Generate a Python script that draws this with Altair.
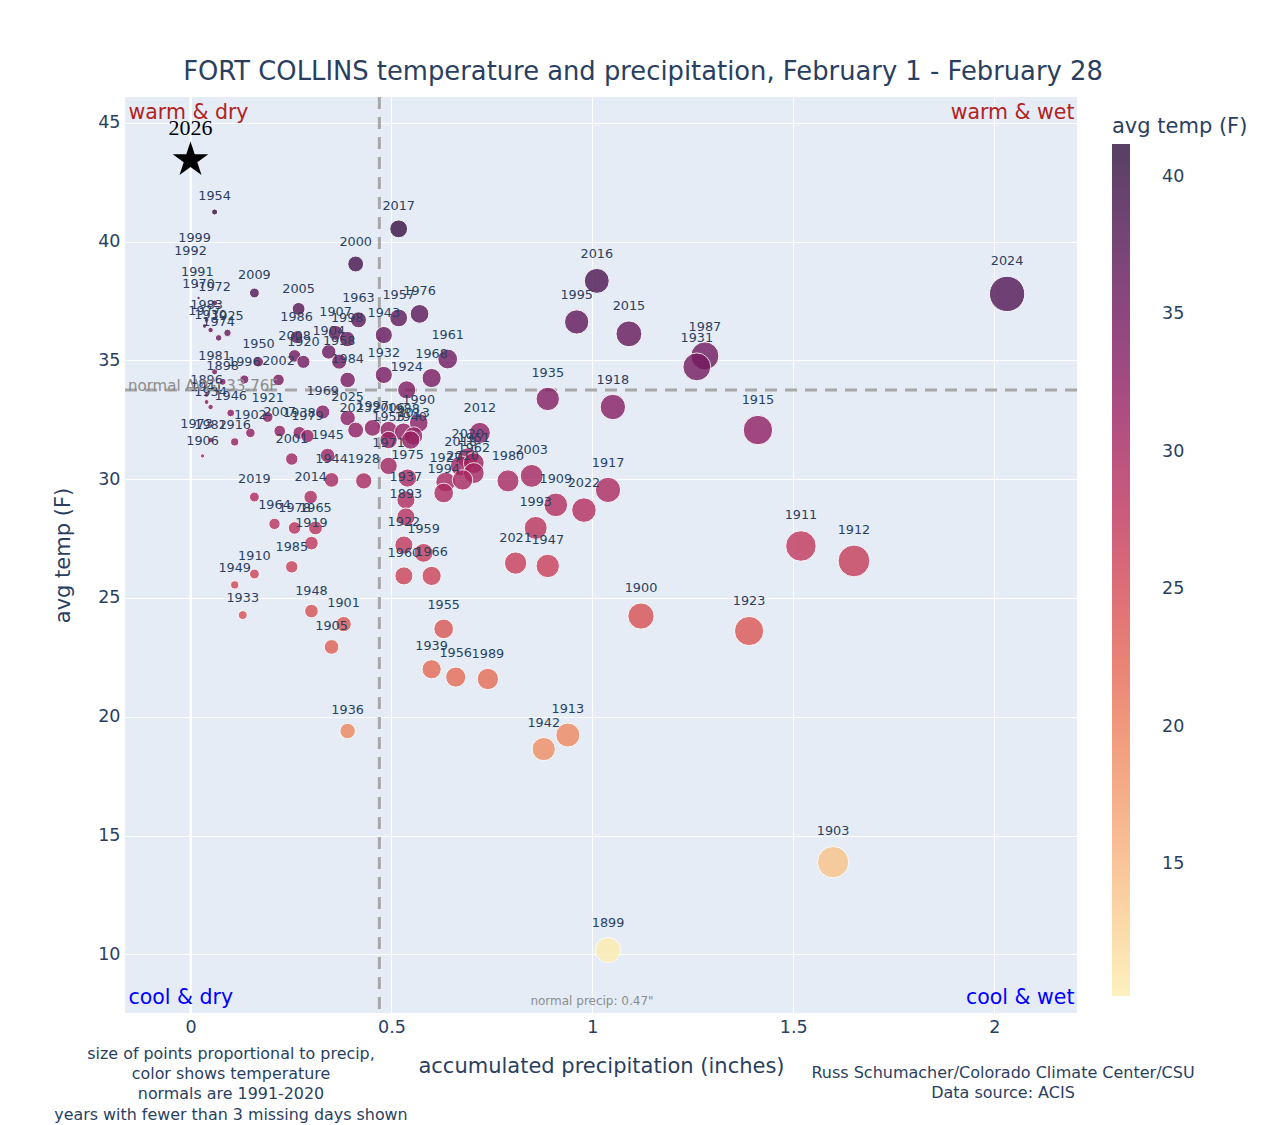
import altair as alt
import pandas as pd

years = ["1954","1999","1992","1991","1970","1972","2009","2005","1983","1977","1930","1925","1974",
         "1986","2008","1920","1904","1907","1998","1963","1958","1984","1950","1996","2002","1981",
         "1898","1896","1941","1934","1946","1921","1902","2007","1938","1979","1969","2025","2023",
         "1997","2006","1988","1990","2013","1953","1940","1916","1973","1982","1906","2001","1945",
         "1971","1975","1944","1928","2019","2014","1937","1893","1964","1978","1965","1919","1922",
         "1959","1960","1966","1910","1985","1949","1933","1948","1901","1905","1936","2017","2000",
         "1957","1976","1943","1961","1968","1932","1924","2012","2020","2018","1951","1962","1927",
         "2010","1994","1980","2003","1909","2022","1993","2021","1947","1917","1935","1918","1915",
         "1995","2016","2015","1987","1931","2024","1911","1912","1900","1923","1955","1939","1956",
         "1989","1913","1942","1903","1899"]
precip = [0.06,0.01,0.0,0.017,0.02,0.06,0.159,0.269,0.04,0.035,0.05,0.092,0.07,
          0.264,0.259,0.281,0.344,0.361,0.39,0.418,0.37,0.391,0.169,0.134,0.219,0.06,
          0.08,0.04,0.04,0.05,0.1,0.192,0.149,0.222,0.271,0.291,0.329,0.391,0.411,
          0.453,0.493,0.53,0.568,0.555,0.493,0.548,0.11,0.015,0.05,0.03,0.252,0.341,
          0.493,0.54,0.351,0.431,0.159,0.299,0.536,0.536,0.209,0.259,0.311,0.301,0.531,
          0.58,0.531,0.6,0.159,0.252,0.11,0.13,0.301,0.381,0.351,0.391,0.518,0.411,
          0.518,0.57,0.481,0.64,0.6,0.481,0.538,0.72,0.69,0.672,0.705,0.705,0.635,
          0.677,0.63,0.79,0.849,0.909,0.979,0.859,0.809,0.889,1.039,0.889,1.051,1.412,
          0.961,1.011,1.091,1.28,1.26,2.032,1.519,1.651,1.121,1.39,0.63,0.6,0.66,
          0.74,0.939,0.879,1.599,1.039]
temp = [41.25,39.6,39.1,38.14,37.63,37.42,37.84,37.17,36.7,36.45,36.28,36.16,35.95,
        35.98,35.19,34.94,35.36,36.16,35.9,36.71,34.95,34.18,34.94,34.2,34.18,34.52,
        34.1,33.55,33.25,33.04,32.79,32.62,31.95,32.03,31.95,31.82,32.83,32.58,32.07,
        32.16,32.07,31.99,32.37,31.82,31.65,31.65,31.57,31.74,31.65,30.98,30.85,31.0,
        30.56,30.05,29.97,29.93,29.25,29.25,29.13,28.41,28.12,27.95,27.95,27.31,27.23,
        26.9,25.93,25.93,26.01,26.31,25.55,24.28,24.45,23.9,22.94,19.4,40.54,39.06,
        36.79,36.96,36.07,35.06,34.26,34.39,33.76,31.95,30.89,30.56,30.68,30.26,29.88,
        29.97,29.42,29.93,30.14,28.92,28.7,27.95,26.47,26.35,29.55,33.38,33.04,32.07,
        36.62,38.35,36.12,35.19,34.73,37.8,27.19,26.56,24.24,23.61,23.7,22.0,21.67,
        21.59,19.23,18.64,13.88,10.18]

current_year = ["2026"]
current_precip = [0.0]
current_temp = [43.44]

normal_precip = [0.47]
normal_temp = [33.76]

x_ticks = [0, 0.5, 1, 1.5, 2]
y_ticks = [10, 15, 20, 25, 30, 35, 40, 45]
cbar_ticks = [15, 20, 25, 30, 35, 40]

matter = ["#fdedb0", "#facd91", "#f6ad77", "#f08e62", "#e76d54", "#d85053",
          "#c3385a", "#a82860", "#8a1d63", "#6b185d", "#4c1550", "#2f0f3d"]

df = pd.DataFrame({"year": years, "precip": precip, "temp": temp})
cur = pd.DataFrame({"year": current_year, "precip": current_precip, "temp": current_temp})
one = pd.DataFrame({"a": [0]})

W, H = 952, 916
Y0, Y1 = 7.53, 46.09
DEG_PER_PX = (Y1 - Y0) / H
FONT = "DejaVu Sans"
TXT = "#2a3f5f"

xs = alt.Scale(domain=[-0.163, 2.206], nice=False, zero=False)
ys = alt.Scale(domain=[Y0, Y1], nice=False, zero=False)

xaxis = alt.Axis(values=x_ticks, format="~g", title="accumulated precipitation (inches)",
                 titleX=W / 2, titleY=53, titleBaseline="middle", titleAlign="center")
yaxis = alt.Axis(values=y_ticks, title="avg temp (F)", titleX=-62, titleY=H / 2,
                 titleAngle=270, titleBaseline="middle", titleAlign="center")


def X(f):
    return alt.X(f, scale=xs, axis=xaxis)


def Y(f):
    return alt.Y(f, scale=ys, axis=yaxis)


zero_line = alt.Chart(pd.DataFrame({"z": [0]})).mark_rule(color="white", strokeWidth=2).encode(x=X("z:Q"))

vline = alt.Chart(pd.DataFrame({"p": normal_precip})).mark_rule(
    color="#a8a8a8", strokeWidth=3, strokeDash=[12, 8]).encode(x=X("p:Q"))
hline = alt.Chart(pd.DataFrame({"t": normal_temp})).mark_rule(
    color="#a8a8a8", strokeWidth=3, strokeDash=[12, 8]).encode(y=Y("t:Q"))

points = alt.Chart(df).mark_circle(opacity=0.8, stroke="white", strokeWidth=1).encode(
    x=X("precip:Q"),
    y=Y("temp:Q"),
    size=alt.Size("precip:Q", scale=alt.Scale(type="linear", domain=[0, 1], range=[0, 615.75]), legend=None),
    color=alt.Color("temp:Q", scale=alt.Scale(domain=[10.2, 41.2], range=matter),
                    legend=alt.Legend(title="avg temp (F)", values=cbar_ticks, orient="none",
                                      legendX=987, legendY=19, gradientLength=852,
                                      gradientThickness=18, labelFontSize=17.5, labelFont=FONT,
                                      labelColor=TXT, titleFont=FONT, titleFontSize=21,
                                      titleFontWeight="normal", titleColor=TXT, titlePadding=7,
                                      labelOffset=32, gradientStrokeWidth=0)),
)

# label sits just above each marker: offset = marker radius + gap, converted to data units
labels = alt.Chart(df).transform_calculate(
    ly=f"datum.temp + (15*sqrt(datum.precip) + 12) * {DEG_PER_PX}"
).mark_text(fontSize=12.8, font=FONT, color=TXT, baseline="middle").encode(
    x=X("precip:Q"),
    y=Y("ly:Q"),
    text="year:N",
)

STAR = ("M0,-1 L0.2245,-0.309 L0.951,-0.309 L0.363,0.118 L0.588,0.809 L0,0.382 "
        "L-0.588,0.809 L-0.363,0.118 L-0.951,-0.309 L-0.2245,-0.309 Z")
star = alt.Chart(cur).mark_point(shape=STAR, filled=True, color="black", opacity=1, size=1400).encode(
    x=X("precip:Q"), y=Y("temp:Q"))
star_lbl = alt.Chart(cur).mark_text(font="Liberation Serif", fontSize=22, color="black",
                                    baseline="middle", dy=-32).encode(
    x=X("precip:Q"), y=Y("temp:Q"), text="year:N")


def note(text, x, y, color=TXT, size=16, align="center", baseline="middle", lh=None):
    kw = dict(font=FONT, fontSize=size, color=color, align=align, baseline=baseline)
    if lh:
        kw["lineHeight"] = lh
    return alt.Chart(one).mark_text(**kw).encode(x=alt.value(x), y=alt.value(y), text=alt.value(text))


annots = [
    note("FORT COLLINS temperature and precipitation, February 1 - February 28",
         518, -25, size=25.8),
    note("warm & dry", 3.5, 16, color="#b22222", size=20.5, align="left"),
    note("warm & wet", 949.5, 16, color="#b22222", size=20.5, align="right"),
    note("cool & dry", 3.5, 901, color="blue", size=20.5, align="left"),
    note("cool & wet", 949.5, 901, color="blue", size=20.5, align="right"),
    note("normal AVG: 33.76F", 3, 289, color="#8c8c8c", size=15, align="left"),
    note('normal precip: 0.47"', 467, 904, color="#8c8c8c", size=12),
    note(["size of points proportional to precip,", "color shows temperature",
          "normals are 1991-2020", "years with fewer than 3 missing days shown"],
         106, 949, size=15.9, baseline="top", lh=20.2),
    note(["Russ Schumacher/Colorado Climate Center/CSU", "Data source: ACIS"],
         878, 968, size=16, baseline="top", lh=20),
]

chart = alt.layer(zero_line, vline, hline, points, labels, star, star_lbl, *annots).properties(
    width=W, height=H,
    autosize=alt.AutoSizeParams(type="none"),
    padding={"left": 117, "top": 89, "right": 183, "bottom": 118},
).configure_view(fill="#E5ECF6", stroke=None).configure_axis(
    grid=True, gridColor="white", gridWidth=1, domain=False, ticks=False,
    labelFont=FONT, labelFontSize=17.5, labelColor=TXT, labelPadding=5,
    titleFont=FONT, titleFontSize=21, titleFontWeight="normal", titleColor=TXT,
)

chart.save("out.html", embed_options={"renderer": "svg", "actions": False})
